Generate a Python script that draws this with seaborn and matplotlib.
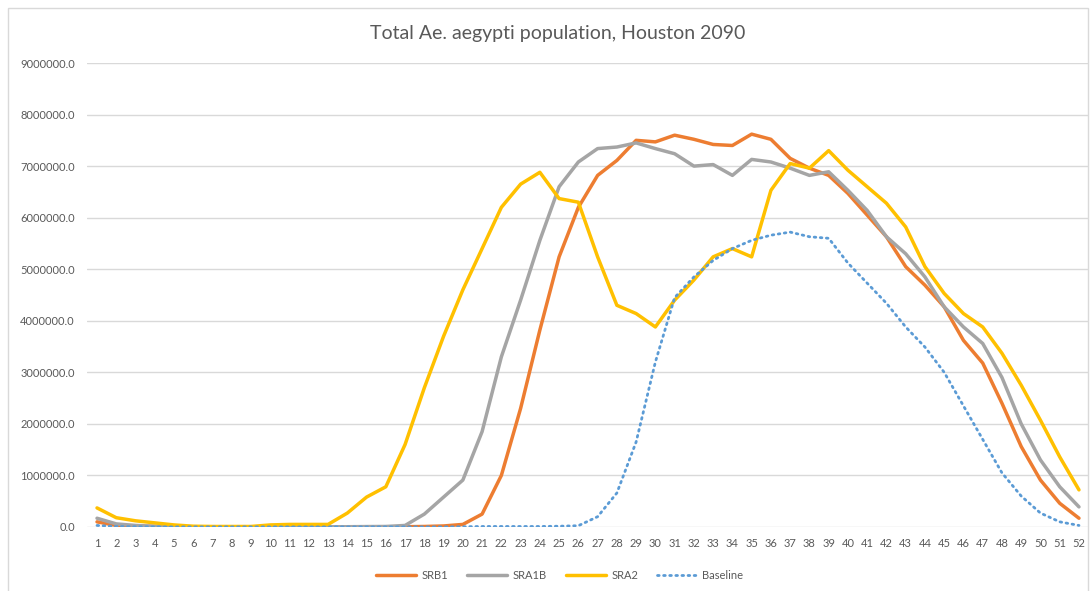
import pandas as pd
import matplotlib.pyplot as plt
import seaborn as sns
from matplotlib.ticker import FuncFormatter
from matplotlib.patches import Rectangle

weeks = list(range(1, 53))

srb1 = [100000, 30000, 15000, 10000, 5000, 3000, 2000, 2000, 2000, 3000,
        3000, 3000, 3000, 3000, 3000, 3000, 5000, 10000, 20000, 50000,
        250000, 1000000, 2300000, 3820000, 5240000, 6200000, 6820000, 7110000, 7500000, 7470000,
        7600000, 7520000, 7420000, 7400000, 7620000, 7520000, 7150000, 6960000, 6820000, 6470000,
        6050000, 5630000, 5050000, 4690000, 4270000, 3620000, 3180000, 2400000, 1560000, 910000,
        460000, 170000]

sra1b = [170000, 60000, 30000, 15000, 8000, 5000, 3000, 3000, 3000, 5000,
         5000, 5000, 5000, 5000, 8000, 10000, 30000, 250000, 580000, 910000,
         1850000, 3300000, 4400000, 5560000, 6600000, 7080000, 7340000, 7370000, 7450000, 7340000,
         7240000, 7000000, 7030000, 6820000, 7130000, 7080000, 6960000, 6820000, 6890000, 6530000,
         6140000, 5630000, 5300000, 4850000, 4270000, 3880000, 3560000, 2900000, 2000000, 1300000,
         780000, 390000]

sra2 = [370000, 180000, 120000, 80000, 40000, 15000, 10000, 10000, 10000, 40000,
        50000, 50000, 50000, 270000, 580000, 780000, 1600000, 2700000, 3700000, 4600000,
        5400000, 6200000, 6650000, 6880000, 6370000, 6300000, 5240000, 4300000, 4140000, 3880000,
        4400000, 4790000, 5240000, 5400000, 5240000, 6530000, 7050000, 6960000, 7300000, 6920000,
        6600000, 6280000, 5820000, 5050000, 4530000, 4140000, 3880000, 3370000, 2750000, 2070000,
        1360000, 720000]

baseline = [30000, 10000, 5000, 3000, 2000, 2000, 2000, 2000, 2000, 2000,
            2000, 2000, 2000, 2000, 2000, 2000, 2000, 2000, 2000, 5000,
            10000, 10000, 10000, 10000, 15000, 25000, 200000, 660000, 1650000, 3200000,
            4450000, 4850000, 5170000, 5400000, 5560000, 5660000, 5720000, 5630000, 5600000, 5120000,
            4730000, 4340000, 3880000, 3490000, 3000000, 2350000, 1700000, 1050000, 600000, 270000,
            100000, 30000]

series_names = ["SRB1", "SRA1B", "SRA2", "Baseline"]
colors = ["#ED7D31", "#A5A5A5", "#FFC000", "#5B9BD5"]

df = pd.DataFrame({"week": weeks, "SRB1": srb1, "SRA1B": sra1b,
                   "SRA2": sra2, "Baseline": baseline})
long_df = df.melt(id_vars="week", var_name="scenario", value_name="population")

sns.set_style("white")
plt.rcParams['font.family'] = ['Lato', 'DejaVu Sans']
text_color = "#595959"

fig = plt.figure(figsize=(10.91, 5.91), dpi=100)
ax = fig.add_axes([0.0801, 0.1083, 0.9177, 0.7851])

for name, col in zip(series_names, colors):
    sub = long_df[long_df["scenario"] == name]
    if name == "Baseline":
        sns.lineplot(data=sub, x="week", y="population", ax=ax, color=col,
                     linewidth=2.0, linestyle=(0, (0.6, 1.6)), label=name,
                     dash_capstyle="round")
    else:
        sns.lineplot(data=sub, x="week", y="population", ax=ax, color=col,
                     linewidth=2.5, label=name)

ax.set_xlim(0.5, 52.5)
ax.set_ylim(0, 9000000)
ax.set_xticks(weeks)
ax.set_xticklabels([str(w) for w in weeks])
ax.set_yticks(range(0, 9000001, 1000000))
ax.yaxis.set_major_formatter(FuncFormatter(lambda v, p: f"{v:.1f}"))
ax.tick_params(axis="both", length=0, labelsize=8, labelcolor=text_color)
ax.tick_params(axis="x", pad=8)
ax.tick_params(axis="y", pad=9)
ax.grid(axis="y", color="#D9D9D9", linewidth=1)
ax.set_axisbelow(True)
for s in ax.spines.values():
    s.set_visible(False)
ax.set_xlabel("")
ax.set_ylabel("")

fig.text(0.511, 0.944, "Total Ae. aegypti population, Houston 2090",
         ha="center", va="center", fontsize=14, color=text_color)

handles, labels = ax.get_legend_handles_labels()
ax.legend(handles, labels, loc="center", bbox_to_anchor=(0.513, 0.027),
          bbox_transform=fig.transFigure, ncol=4, frameon=False,
          fontsize=8, handlelength=3.6, handletextpad=0.5,
          columnspacing=1.7, labelcolor=text_color)

fig.patches.append(Rectangle((0.007, -0.01), 0.99, 0.996, transform=fig.transFigure,
                             fill=False, edgecolor="#D9D9D9", linewidth=1))

fig.savefig("out.png", dpi=100)
